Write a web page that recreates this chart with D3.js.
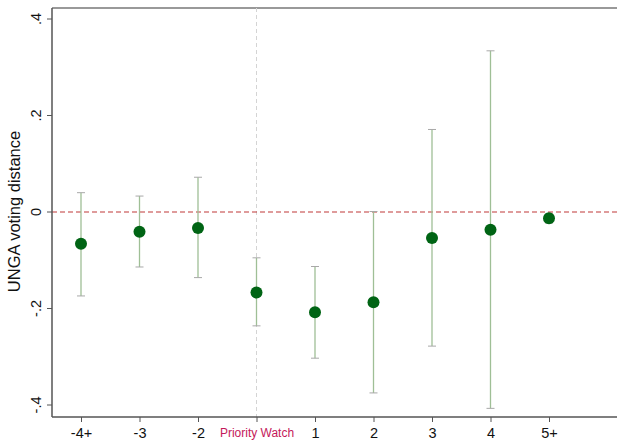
<!DOCTYPE html>
<html>
<head>
<meta charset="utf-8">
<script src="https://cdn.jsdelivr.net/npm/d3@7"></script>
<style>
  body { margin: 0; background: #fff; }
  text { font-family: "Liberation Sans", Arial, sans-serif; }
</style>
</head>
<body>
<div id="chart"></div>
<script>
// Event-study style coefficient plot: UNGA voting distance by period

const categories = ["-4+", "-3", "-2", "Priority Watch", "1", "2", "3", "4", "5+"];
const estimates = [-0.067, -0.042, -0.034, -0.168, -0.209, -0.188, -0.055, -0.038, -0.014];
const ciLower   = [-0.175, -0.115, -0.137, -0.237, -0.304, -0.376, -0.279, -0.408, -0.024];
const ciUpper   = [ 0.039,  0.032,  0.071, -0.096, -0.114,  0.000,  0.170,  0.333, -0.005];
const yTicks = [-0.4, -0.2, 0, 0.2, 0.4];
const yTickLabels = ["-.4", "-.2", "0", ".2", ".4"];
const highlight = "Priority Watch";

const width = 618;
const height = 442;
const margin = { top: 8, right: 1, bottom: 25, left: 52 };

const svg = d3.select("#chart")
  .append("svg")
  .attr("width", width)
  .attr("height", height);

const x = d3.scalePoint()
  .domain(categories)
  .range([81, 549]);

const y = d3.scaleLinear()
  .domain([-0.4, 0.4])
  .range([404.5, 18.5]);

const plotBottom = height - margin.bottom;

// frame: top line
svg.append("line")
  .attr("x1", margin.left)
  .attr("x2", width - margin.right)
  .attr("y1", margin.top)
  .attr("y2", margin.top)
  .attr("stroke", "#777")
  .attr("stroke-width", 1.5);

// vertical dashed line at treatment period
svg.append("line")
  .attr("x1", x(highlight))
  .attr("x2", x(highlight))
  .attr("y1", margin.top)
  .attr("y2", plotBottom)
  .attr("stroke", "#d4d4d4")
  .attr("stroke-width", 1)
  .attr("stroke-dasharray", "4,3");

// zero reference line
svg.append("line")
  .attr("x1", margin.left)
  .attr("x2", width - margin.right)
  .attr("y1", y(0) + 0.5)
  .attr("y2", y(0) + 0.5)
  .attr("stroke", "#c03838")
  .attr("stroke-width", 1.2)
  .attr("stroke-dasharray", "5,3");

const data = categories.map((c, i) => ({
  cat: c, est: estimates[i], lo: ciLower[i], hi: ciUpper[i]
}));

// confidence intervals
const ci = svg.append("g").selectAll("g")
  .data(data)
  .enter()
  .append("g");

ci.append("line")
  .attr("x1", d => x(d.cat))
  .attr("x2", d => x(d.cat))
  .attr("y1", d => y(d.lo))
  .attr("y2", d => y(d.hi))
  .attr("stroke", "#9fbf96")
  .attr("stroke-width", 1.3);

ci.selectAll("line.cap")
  .data(d => [d.lo, d.hi].map(v => ({ cat: d.cat, v })))
  .enter()
  .append("line")
  .attr("class", "cap")
  .attr("x1", d => x(d.cat) - 4)
  .attr("x2", d => x(d.cat) + 4)
  .attr("y1", d => y(d.v))
  .attr("y2", d => y(d.v))
  .attr("stroke", "#a8a8a8")
  .attr("stroke-width", 1);

// point estimates
svg.append("g").selectAll("circle")
  .data(data)
  .enter()
  .append("circle")
  .attr("cx", d => x(d.cat))
  .attr("cy", d => y(d.est))
  .attr("r", 6)
  .attr("fill", "#006414");

// X axis
const xAxisG = svg.append("g")
  .attr("transform", `translate(0,${plotBottom})`)
  .call(d3.axisBottom(x).tickSize(5).tickPadding(6));

xAxisG.select(".domain")
  .attr("d", `M${margin.left},0H${width - margin.right}`)
  .attr("stroke", "#555")
  .attr("stroke-width", 1.5);
xAxisG.selectAll(".tick line").attr("stroke", "#555");
xAxisG.selectAll(".tick text")
  .style("font-size", d => d === highlight ? "12px" : "14.5px")
  .attr("fill", d => d === highlight ? "#c4185a" : "#111");

// Y axis
const yAxisG = svg.append("g")
  .attr("transform", `translate(${margin.left},0)`)
  .call(d3.axisLeft(y).tickValues(yTicks).tickSize(5)
    .tickFormat((d, i) => yTickLabels[i]));

yAxisG.select(".domain")
  .attr("d", `M0,${margin.top}V${plotBottom}`)
  .attr("stroke", "#555")
  .attr("stroke-width", 1.5);
yAxisG.selectAll(".tick line").attr("stroke", "#555");
yAxisG.selectAll(".tick text")
  .attr("x", 0)
  .attr("dy", 0)
  .attr("text-anchor", "middle")
  .attr("transform", "translate(-11,0) rotate(-90)")
  .style("font-size", "14.5px")
  .attr("fill", "#111");

// Y axis title
svg.append("text")
  .attr("transform", `translate(20,${y(0)}) rotate(-90)`)
  .attr("text-anchor", "middle")
  .style("font-size", "16.5px")
  .attr("fill", "#111")
  .text("UNGA voting distance");
</script>
</body>
</html>
